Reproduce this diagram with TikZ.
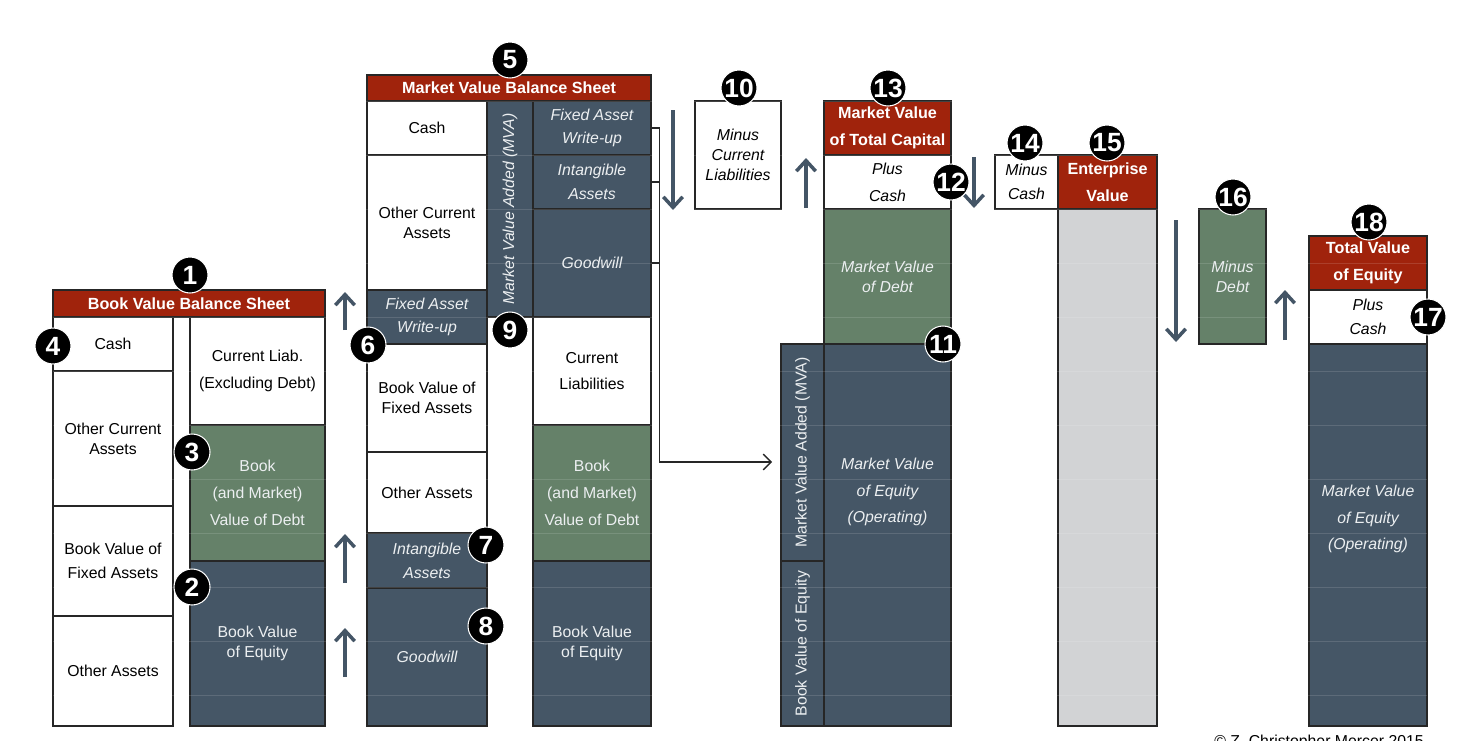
\documentclass[tikz,border=0pt]{standalone}
\usepackage{fontspec}
\setmainfont{Liberation Sans}
\usetikzlibrary{arrows.meta, calc}

\definecolor{hdrred}{RGB}{160,35,12}
\definecolor{debtgreen}{RGB}{101,129,105}
\definecolor{eqslate}{RGB}{69,86,102}
\definecolor{evgray}{RGB}{210,211,213}
\definecolor{flowslate}{RGB}{68,85,102}
\definecolor{paper}{RGB}{236,239,241}

\begin{document}
\begin{tikzpicture}[x=0.02cm, y=-0.02cm,
		cell/.style = {draw=black!85, line width=0.8pt, rectangle, inner sep=0pt, align=center, font=\fontsize{9}{11.3}\selectfont},
		hdr/.style = {cell, fill=hdrred, text=white, font=\fontsize{9.2}{15.3}\selectfont\bfseries},
		lite/.style = {cell, fill=white},
		debt/.style = {cell, fill=debtgreen, text=paper},
		eqty/.style = {cell, fill=eqslate, text=paper},
		evbody/.style = {cell, fill=evgray},
		% line spacing of the labels
		tight/.style = {font=\fontsize{9}{11.3}\selectfont},
		tightit/.style = {font=\fontsize{9}{11.3}\selectfont\itshape},
		loose/.style = {font=\fontsize{9}{13.5}\selectfont},
		looseit/.style = {font=\fontsize{9}{13.5}\selectfont\itshape},
		airy/.style = {font=\fontsize{9}{15.3}\selectfont},
		airyit/.style = {font=\fontsize{9}{15.3}\selectfont\itshape},
		badge/.style = {circle, fill=black, draw=white, line width=0.6pt, minimum size=0.72cm, inner sep=0pt, text=white, font=\fontsize{15}{15}\selectfont\bfseries},
		move/.style = {draw=flowslate, line width=2pt, -{Straight Barb[length=6pt, width=11pt]}},
		link/.style = {draw=black!85, line width=0.75pt},
		faint/.style = {draw=white, opacity=0.13, line width=0.5pt}
		]
		
		\useasboundingbox (0,0) rectangle (1466,740);
		
		% --- BOOK VALUE BALANCE SHEET ---
		\node [hdr, minimum width=5.44cm, minimum height=0.54cm] (bHead) at (189,303.5) {Book Value Balance Sheet};
		\node [lite, minimum width=2.4cm, minimum height=1.08cm] (bCash) at (113,344) {Cash};
		\node [lite, minimum width=2.4cm, minimum height=2.7cm] (bOtherCA) at (113,438.5) {Other Current\\Assets};
		\node [lite, loose, minimum width=2.4cm, minimum height=2.2cm] (bFixed) at (113,561) {Book Value of\\Fixed Assets};
		\node [lite, minimum width=2.4cm, minimum height=2.2cm] (bOther) at (113,671) {Other Assets};
		\node [lite, airy, minimum width=2.7cm, minimum height=2.16cm] (bLiab) at (257.5,371) {Current Liab.\\(Excluding Debt)};
		\node [debt, airy, minimum width=2.7cm, minimum height=2.72cm] (bDebt) at (257.5,493) {Book\\(and Market)\\Value of Debt};
		\node [eqty, minimum width=2.7cm, minimum height=3.3cm] (bEquity) at (257.5,643.5) {Book Value\\of Equity};
		
		% --- MARKET VALUE BALANCE SHEET ---
		\node [hdr, minimum width=5.68cm, minimum height=0.52cm] (mHead) at (509,88) {Market Value Balance Sheet};
		\node [lite, minimum width=2.4cm, minimum height=1.08cm] (mCash) at (427,128) {Cash};
		\node [lite, minimum width=2.4cm, minimum height=2.7cm] (mOtherCA) at (427,222.5) {Other Current\\Assets};
		\node [eqty, looseit, minimum width=2.4cm, minimum height=1.08cm] (mWriteUp) at (427,317) {Fixed Asset\\Write-up};
		\node [lite, minimum width=2.4cm, minimum height=2.16cm] (mFixed) at (427,398) {Book Value of\\Fixed Assets};
		\node [lite, minimum width=2.4cm, minimum height=1.62cm] (mOther) at (427,492.5) {Other Assets};
		\node [eqty, looseit, minimum width=2.4cm, minimum height=1.1cm] (mIntang) at (427,560.5) {Intangible\\Assets};
		\node [eqty, tightit, minimum width=2.4cm, minimum height=2.76cm] (mGoodwill) at (427,657) {Goodwill};
		\node [eqty, tightit, rotate=90, minimum width=4.32cm, minimum height=0.92cm] (mMVA) at (510,209) {Market Value Added (MVA)};
		\node [eqty, looseit, minimum width=2.36cm, minimum height=1.08cm] (mWriteUpR) at (592,128) {Fixed Asset\\Write-up};
		\node [eqty, looseit, minimum width=2.36cm, minimum height=1.08cm] (mIntangR) at (592,182) {Intangible\\Assets};
		\node [eqty, tightit, minimum width=2.36cm, minimum height=2.16cm] (mGoodwillR) at (592,263) {Goodwill};
		\node [lite, airy, minimum width=2.36cm, minimum height=2.16cm] (mLiab) at (592,371) {Current\\Liabilities};
		\node [debt, airy, minimum width=2.36cm, minimum height=2.72cm] (mDebt) at (592,493) {Book\\(and Market)\\Value of Debt};
		\node [eqty, minimum width=2.36cm, minimum height=3.3cm] (mEquity) at (592,643.5) {Book Value\\of Equity};
		
		% --- TOTAL CAPITAL ---
		\node [lite, tightit, minimum width=1.72cm, minimum height=2.16cm] (minusLiab) at (738,155) {Minus\\Current\\Liabilities};
		\node [hdr, minimum width=2.54cm, minimum height=1.08cm] (capHead) at (887.5,128) {Market Value\\of Total Capital};
		\node [lite, airyit, minimum width=2.54cm, minimum height=1.08cm] (capCash) at (887.5,182) {Plus\\Cash};
		\node [debt, tightit, minimum width=2.54cm, minimum height=2.7cm] (capDebt) at (887.5,276.5) {Market Value\\of Debt};
		\node [eqty, minimum width=2.54cm, minimum height=7.64cm] (capEquity) at (887.5,535) {};
		\node [airyit, text=paper, align=center] (capEqText) at (887.5,492) {Market Value\\of Equity\\(Operating)};
		\node [eqty, rotate=90, minimum width=4.34cm, minimum height=0.86cm] (capMVA) at (802.5,452.5) {Market Value Added (MVA)};
		\node [eqty, rotate=90, minimum width=3.3cm, minimum height=0.86cm] (capBook) at (802.5,643.5) {Book Value of Equity};
		
		% --- ENTERPRISE VALUE ---
		\node [lite, looseit, minimum width=1.26cm, minimum height=1.08cm] (minusCash) at (1026.5,182) {Minus\\Cash};
		\node [hdr, minimum width=1.98cm, minimum height=1.08cm] (evHead) at (1107.5,182) {Enterprise\\Value};
		\node [evbody, minimum width=1.98cm, minimum height=10.34cm] (evBody) at (1107.5,467.5) {};
		
		% --- TOTAL VALUE OF EQUITY ---
		\node [debt, tightit, minimum width=1.34cm, minimum height=2.7cm] (minusDebt) at (1232.5,276.5) {Minus\\Debt};
		\node [hdr, minimum width=2.36cm, minimum height=1.08cm] (eqHead) at (1368,263) {Total Value\\of Equity};
		\node [lite, looseit, minimum width=2.36cm, minimum height=1.08cm] (eqCash) at (1368,317) {Plus\\Cash};
		\node [eqty, minimum width=2.36cm, minimum height=7.64cm] (eqBody) at (1368,535) {};
		\node [airyit, text=paper, align=center] (eqText) at (1368,519) {Market Value\\of Equity\\(Operating)};
		
		% faint guide lines of the slide
		\foreach \gy in {101,155,...,695}
		\draw [faint] (53,\gy) -- (1427,\gy);
		
		% --- WRITE-UPS GATHERED INTO THE MVA ---
		\coordinate (mvaIn) at (772,462);
		\draw [link] (mIntangR.east) -- ++(8,0);
		\draw [link] (mGoodwillR.east) -- ++(8,0);
		\draw [link, -{Straight Barb[length=4.5pt, width=9pt]}] (mWriteUpR.east) -- ++(8,0) |- (mvaIn);
		
		% --- STEP ARROWS ---
		\coordinate (up1a) at (345,330);   \coordinate (up1b) at (345,292);
		\coordinate (up2a) at (345,583);   \coordinate (up2b) at (345,534);
		\coordinate (up3a) at (345,677);   \coordinate (up3b) at (345,628);
		\coordinate (dn1a) at (673,110);   \coordinate (dn1b) at (673,210);
		\coordinate (up4a) at (806,208);   \coordinate (up4b) at (806,158);
		\coordinate (dn2a) at (974,157);   \coordinate (dn2b) at (974,208);
		\coordinate (dn3a) at (1176,220);  \coordinate (dn3b) at (1176,342);
		\coordinate (up5a) at (1285,340);  \coordinate (up5b) at (1285,290);
		\foreach \a in {up1, up2, up3, dn1, up4, dn2, dn3, up5}
		\draw [move] (\a a) -- (\a b);
		
		% --- NUMBERED BADGES ---
		\node [badge] (n1)  at (190,275)  {1};
		\node [badge] (n2)  at (192,587)  {2};
		\node [badge] (n3)  at (192,452)  {3};
		\node [badge] (n4)  at (53,346)   {4};
		\node [badge] (n5)  at (510,60)   {5};
		\node [badge] (n6)  at (368,345)  {6};
		\node [badge] (n7)  at (486,545)  {7};
		\node [badge] (n8)  at (486,626)  {8};
		\node [badge] (n9)  at (510,330)  {9};
		\node [badge] (n10) at (739,88)   {10};
		\node [badge] (n11) at (943,344)  {11};
		\node [badge] (n12) at (951,182)  {12};
		\node [badge] (n13) at (888,88)   {13};
		\node [badge] (n14) at (1025,143) {14};
		\node [badge] (n15) at (1107,143) {15};
		\node [badge] (n16) at (1233,197) {16};
		\node [badge] (n17) at (1428,317) {17};
		\node [badge] (n18) at (1369,222) {18};
		
		\node [tight, anchor=base] (copy) at (1319,746) {© Z. Christopher Mercer 2015};
		
	\end{tikzpicture}
\end{document}
